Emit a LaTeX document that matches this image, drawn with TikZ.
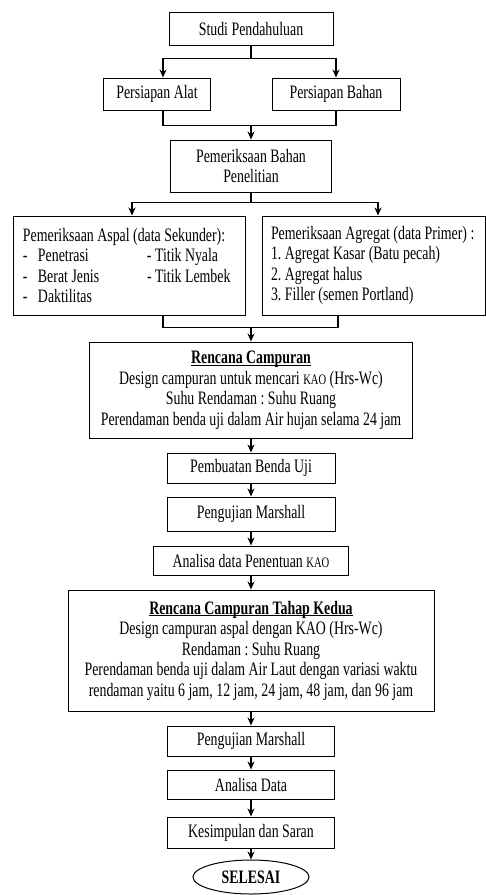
\documentclass[tikz,border=0pt]{standalone}
\usepackage{fontspec}
\setmainfont[FakeStretch=0.73]{Liberation Serif}
\usetikzlibrary{positioning, arrows, arrows.meta, shapes.geometric}
\newcommand{\smallkao}{{\fontsize{14.5}{20}\selectfont KAO}}
\newcommand{\garisbawah}[1]{{\setbox0\hbox{#1}\rlap{\rule[-2.2pt]{\wd0}{0.9pt}}\box0}}

\begin{document}
\begin{tikzpicture}[x=1pt,y=1pt,on grid,>={Stealth[length=8pt,width=7pt]},
	box/.style={draw,rectangle,line width=1pt,align=center,inner sep=0pt,
		font=\fontsize{19}{20.5}\selectfont\frenchspacing},
	listbox/.style={box,align=left,inner xsep=10pt},
	line/.style={line width=1.3pt}]
			\useasboundingbox (0,0) rectangle (486,-895);
			\node[box,minimum width=164pt,minimum height=33pt] (studi) at (251,-28.5) {Studi Pendahuluan};
			\node[box,minimum width=107pt,minimum height=32pt] (alat) [below left=65.5pt and 94pt of studi] {Persiapan Alat};
			\node[box,minimum width=128pt,minimum height=32pt] (bahan) [below right=65.5pt and 85pt of studi] {Persiapan Bahan};
			\node[box,minimum width=161pt,minimum height=52pt] (periksa) [below=137.5pt of studi] {Pemeriksaan Bahan\\Penelitian};
			\node[listbox,minimum height=99pt] (aspal) [below left=99.5pt and 122pt of periksa]
				{\makebox[212pt][l]{Pemeriksaan Aspal (data Sekunder):}\\
				 \makebox[15pt][l]{-}\makebox[109pt][l]{Penetrasi}- Titik Nyala\\
				 \makebox[15pt][l]{-}\makebox[109pt][l]{Berat Jenis}- Titik Lembek\\
				 \makebox[15pt][l]{-}Daktilitas};
			\node[listbox,inner xsep=9pt,minimum height=99pt] (agregat) [below right=99.5pt and 122.5pt of periksa]
				{\makebox[205pt][l]{Pemeriksaan Agregat (data Primer) :}\\
				 1. Agregat Kasar (Batu pecah)\\
				 2. Agregat halus\\
				 3. Filler (semen Portland)};
			\node[box,minimum width=323pt,minimum height=96pt] (rencana) [below=224pt of periksa]
				{\garisbawah{\textbf{Rencana Campuran}}\\
				 Design campuran untuk mencari \smallkao{} (Hrs-Wc)\\
				 Suhu Rendaman : Suhu Ruang\\
				 Perendaman benda uji dalam Air hujan selama 24 jam};
			\node[box,minimum width=168pt,minimum height=30pt] (benda) [below=78pt of rencana] {Pembuatan Benda Uji};
			\node[box,minimum width=168pt,minimum height=34pt] (marshall) [below=46pt of benda] {Pengujian Marshall};
			\node[box,minimum width=195pt,minimum height=29pt] (kao) [below=46.5pt of marshall] {Analisa data Penentuan \smallkao};
			\node[box,minimum width=366pt,minimum height=121pt] (tahap) [below=90pt of kao]
				{\garisbawah{\textbf{Rencana Campuran Tahap Kedua}}\\
				 Design campuran aspal dengan KAO (Hrs-Wc)\\
				 Rendaman : Suhu Ruang\\
				 Perendaman benda uji dalam Air Laut dengan variasi waktu\\
				 rendaman yaitu 6 jam, 12 jam, 24 jam, 48 jam, dan 96 jam};
			\node[box,minimum width=167pt,minimum height=30pt] (marshallb) [below=90.5pt of tahap] {Pengujian Marshall};
			\node[box,minimum width=167pt,minimum height=29pt] (analisa) [below=43.5pt of marshallb] {Analisa Data};
			\node[box,minimum width=167pt,minimum height=31pt] (simpul) [below=48pt of analisa] {Kesimpulan dan Saran};
			\node[box,ellipse,minimum width=116pt,minimum height=34pt,font=\fontsize{19}{20.5}\selectfont\bfseries] (selesai) [below=44.5pt of simpul] {SELESAI};
			% percabangan
			\coordinate[below=13pt of studi.south] (pisah1);
			\coordinate[above=14pt of periksa.north] (gabung1);
			\coordinate[below=10pt of periksa.south] (pisah2);
			\coordinate[above=14pt of rencana.north] (gabung2);
			\draw[line] (studi) -- (pisah1);
			\draw[line,->] (pisah1) -| ([xshift=6pt]alat.north);
			\draw[line,->] (pisah1) -| (bahan.north);
			\draw[line] ([xshift=6pt]alat.south) |- (gabung1) -| (bahan.south);
			\draw[line,->] (gabung1) -- (periksa);
			\draw[line] (periksa) -- (pisah2);
			\draw[line,->] (pisah2) -| ([xshift=3pt]aspal.north);
			\draw[line,->] (pisah2) -| ([xshift=4.5pt]agregat.north);
			\draw[line] ([xshift=34pt]aspal.south) |- (gabung2) -| ([xshift=-35.5pt]agregat.south);
			\draw[line,->] (gabung2) -- (rencana);
			% alur utama
			\path[line,->] (rencana) edge (benda)
						(benda) edge (marshall)
						(marshall) edge (kao)
						(kao) edge (tahap)
						(tahap) edge (marshallb)
						(marshallb) edge (analisa)
						(analisa) edge (simpul)
						(simpul) edge (selesai);
\end{tikzpicture}
\end{document}
